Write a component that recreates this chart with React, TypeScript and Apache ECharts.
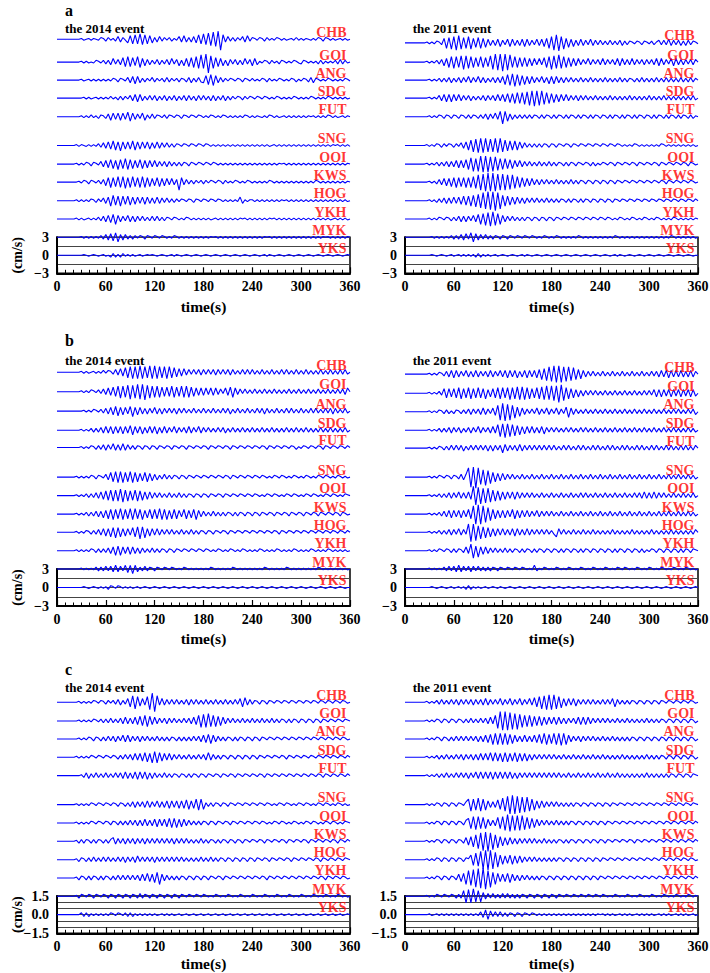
import React, { useEffect, useRef } from "react";
import * as echarts from "echarts";

// ---------------- data ----------------
const STATIONS = ["CHB", "GOI", "ANG", "SDG", "FUT", "SNG", "OOI", "KWS", "HOG", "YKH", "MYK", "YKS"];
const TIME_STEP = 3; // seconds between samples
const TIME_MAX = 360;
const TIME_TICK = 60;
// amplitude of one code level (cm/s); code 'm' = 0, 'n' = +1, 'l' = -1 ...
const LEVEL_AB = 0.15;
const LEVEL_C = 0.075;

// trace offsets (cm/s) for stations, top to bottom
const OFF_A_2014 = [36.0, 32.2, 29.2, 26.2, 23.1, 18.3, 15.2, 12.2, 9.1, 6.05, 3.0, 0];
const OFF_A_2011 = [35.4, 32.2, 29.2, 26.2, 23.1, 18.3, 15.2, 12.2, 9.1, 6.05, 3.0, 0];
const OFF_B_2014 = [34.9, 31.75, 28.6, 25.5, 22.7, 17.9, 14.9, 11.9, 8.95, 5.97, 3.0, 0];
const OFF_B_2011 = [34.6, 31.5, 28.5, 25.5, 22.6, 17.9, 14.9, 11.9, 8.95, 5.97, 3.0, 0];
const OFF_C_2014 = [17.08, 15.58, 14.13, 12.66, 11.18, 8.85, 7.37, 5.9, 4.42, 2.95, 1.48, 0];
const OFF_C_2011 = [17.08, 15.58, 14.13, 12.66, 11.18, 8.85, 7.37, 5.9, 4.42, 2.95, 1.48, 0];

// waveforms: one char per 3 s sample (groups of 60 s)
const WAVES_A_2014 = [
  "mmmmmmmmmmnlmnlnmlon kolnkpjoliqhrhsgrhqi ojpkoloknlpjqjojpirh sgtfuevarjpkokolpjqk onlonkolnlonlnlmnlol nlnmlnlonkonlnlmnlnl m",
  "mmmmmmmmmmnlnlmlonlo kojqkpjrhshrisgqipjo kpjokpjqkpioiqhrgsfu fvatfrhqioipkpjojqkp iqjnlonkolnkonlnlonl konlnlnkoknlnlokpkol m",
  "mmmmmmmmmmnlmnlnlnln lnlonkonlpjqiqjokolp kolokpkolokonkpjokpk jrhsgrjpkolonlonkonl olnlonkolnlonlnlonkn lonkpjonlnlonlnlnlon l",
  "mmmmmmmmmmmnlnlmnlnl nlolnkokolpjqiqjokpk pjokpjokpjokpjpkojpk pkojpjokpjokolonkolo nlonlonlnlonlnlnlonl nlnlonlnlnlonlnlnlnl m",
  "mmmmmmmmmmnlnlolnkon kpiqjqiqjrhqjpkqiokp konlokonlonkonlonlon lnlonlnlonlnlnlnlonl nlnmlnlonlnlmnlnlnln lnlnmnlnlnlonlnlmnln m",
  "mmmmmmmmnlnmlnlnlokp jqirhqgqiqirhqiqjqip jqjpkpkokonlonlonlon lonlnlnlnlnlnlnlnlnl nlnlnlnlmnlnlnlnlnln lnlnlnlnlnlnlnmnlnln l",
  "mmmmmmmmnlnlonkonlpj qirhqgrhsgrhqirhqiqj qjpkpjpkokokonkonlon lonlonlnlnlnlnlnlnln lnlnlnlnlnlnmnlnlnln lnlnlnlnlnlnlnlnlnln m",
  "mmmmmmmmmnlonkonlokp irgrhsgsfrgshrgsgrhq irhqiqjqjpdrjpkokolo kolonlonkolnlonlnlon lnlnlnlonlnlnlnlnlnl nlnlnlonlnlnlnlnlnln m",
  "mmmmmmmmnlnlnlonkolp jqgshrgrirhqiqjqiqjp jqjpkpkokolonlonkonl onlonlonlnlnlnlqjnln nlnlnlnlnlnlnmnlnlnl nlnlnlnlnlnlnlnlnlnl m",
  "mmmmmmmmnlnlmnlnlokp jqirgqjpkqjpjpkpkokp kpkokonlonlnlonlnlnl nlnlmnlnlnlnlnlnmnln lnlnlnlnmnlnlnlnlnln lnlnlnlnlnlnlmnlnlnl m",
  "mmmmmmmmmmnlnlnlnlok pjqirhpjpkokolonkonl onlonlnlonlnlnlnlnln lnlnmnlnlnlnlnlnlnln lnlnlnmnlnlnlnlnlnln lnlnlnlnlnmnlnlnlnln m",
  "mmmmmmmmmmmnmlmnmlmn lmkoknkolnlnlmnlmnmn mlmnmlmnlnmlmnmlmnml mnmlmnmlmnmlmnmlmnml mnmlmnlnmlmnmlmnmlmn mlmnmlmnmlmnmlmnmlmn m",
];

const WAVES_A_2011 = [
  "mmmmmmmmmnlnlonkrgsf teufsgtfrhsgrhqjpjqi pkqiqjpjqiqjpkqjqirg tevdtfrhqipjqjpkqjpk pkokpkokpjokonlonkon loknpkpkqjpkpjojpkon l",
  "mmmmmmmmmnlnlokpiqgs fsgtetfsgrhsgrhtevdv cvdugsgrhrhqiqjqjrgs etfufsgrhqiqjpkqjpkp jqjpkpjqiqjpjqjpkpjp kpjqiqjpkqiqjpjpkpjp m",
  "mmmmmmmmmmnlnlokokpj okpjpkqjpkqjpjokpjpj qhsgtfsgrhqiqjpkqjpi qiqjpjpkpkokpkokpkok okpkokokpkokonkokpko kokpkokpkokokpkokpko m",
  "mmmmmmmmmmnlnlpjqiqi qjqjpkpjokokpjpkpjqj qirhrgsgsfteudueufsg rhqiqjqjpkpjpkpkokpk okokpkokokokpkokokok pkokokpkokokokokokpk m",
  "mmmmmmmmmmnlnlonkonk onkonkokonkokpjpkqjs eshpjokokokokonkokon kokonkokonkokonkokon konkokonkokonkokonko nkokonkokonkokonkokn m",
  "mmmmmmmmmnlnlonkolon kolpjqhsfteueuftfueu fsgrhrhqjpkokokokonk onkonlonkonlonlonlon lonlonlonlnlnlonlnln lnlnlonlnlnlnlnlnlnl m",
  "mmmmmmmmmnlnlokokpjp jqiqirgtesevdvdueufs gshrhqjqjpkpkokpkokp kokonkokonkonlonkokn lonlonkonlonlonkonlo nlonkonlonlonlonkonl m",
  "mmmmmmmmmmnlnkpjqiqh rgrhrgrgsfudvcwcwcvd vdueufsgrhqiqjpjpkpk okpkokokpkokonkonkon konkonkonlonlonlonlo nlonlonkonlonlonlonl m",
  "mmmmmmmmmmnlnkokpjpj qjqirhrgsftevdwcwbvd sgrhqiqjpjpkpkpkokpk okokonkokonkokonkonk onkonkonlonlonlonlon lonlonlonlonlonlonlo m",
  "mmmmmmmmmmnlnlonlonk okpjpjpkqjrgsfteufsg qjpkpkokokonkonkonko nkonlonlonlonlonlonl onlonlnlonlnlonlnlon lnlonlnlnlonlnlnlnln m",
  "mmmmmmmmmmmnlnlnlnlo kokpjqkrhqjpkpkokonk onkonlonlonlonlnlonl nlonlnlnlnlonlnlnlnl nlnlnlonlnlnlnlnlnln lnlnlnlnlonlnlnlnlnl m",
  "mmmmmmmmmmmnmlmnmlmn lmnlnlnlnkoknlnlmnlm nmlmnmlmnlnmlmnmlmnm lmnmlmnmlmnmlmnmlmnm lmnmlmnlnmlmnmlmnmlm nmlmnmlmnmlmnmlmnmlm m",
];

const WAVES_B_2014 = [
  "mmmmmmmmmmnlnlmnlnlo lonkpjqirgsfsftfsgtf tfsgsfsgrhqiqjpkpkpj pkpkpjpkpkpjpkokpkpk pkokpkokpkokpkpkokpk okpkokokpkokpkokpkpk m",
  "mmmmmmmmmmnlnlonlokp jqirhsfsgtetfueudtfs gsgrhrhsgrhsgsgrhqiq iqjqiqjpkqirgqjpkpko kpkokpkokpkokokpkokp kokpkokpkokpkokpkpjq m",
  "mmmmmmmmmmmnlnlonlok pjqirhqiqjrgqiqjpjpk qjpjpkpkpjpkpkokpkok pkokpkokpkpjokpkokpk okpkpjpkokpkokpkpkok pkokpkpkokpkpjpkokpk m",
  "mmmmmmmmmmnlnlokokpj qjqiqjqiqjrhqjqipjqj qipjqjpkqjpkpjqjpkqj pkpkokpkpjokpkokpkok pkokpkokpkokokpkokpk okpkokokpkokpkokokpk m",
  "mmmmmmmmmmnlnlonkokp jpkqjpjqjpkokonkonko nkonlonkonlonkonlonl onkonlonlonkonlonlon lonlonkonlonlonlonkn lonlonlonkonlonlonlo m",
  "mmmmmmmmnlnlnlonkonl pjrhsgsgrhsgrhqirhqi pjokpkokonkonkonlonl onlonlonlonkonlonlon lonlonlnlonlonlnlonl nlonlnlonlonlnlonlnl m",
  "mmmmmmmmnlnlokokpjqi rhsgsgtfsgrhsgrhqiqj pkpkokpkokpkokonkonk onkonlonkonlonlonlon lonlnlonlonlnlonlonl nlonlonlnlonlonlnlon m",
  "mmmmmmmmnlnlokokpjpi qhrgrhsgrhsgshrgqirh rhsgrgqhrhqjrhqirgqj pkokpkokokonkokonkon konkonlonkonlonkonlo nkonlonkonlonlonkonl m",
  "mmmmmmmmnlnlonkokpjq iqhrgrhqiqjrhsfsgqiq jqjpkpkpkokpkokpkoko nkonkonlonkonlonlonl onlonlonlonkonlonlon lonlonlonlonlonlonlo m",
  "mmmmmmmmnlnlnlonkoko kpjqhrhqjqiqjpjpkokp kokonkonkonlonlonlon lonlnlonlnlonlnlonln lnlonlnlnlonlnlnlonl nlnlonlnlnlonlnlnlnl m",
  "mmmmmmmmmmnlnlnlokok pkpjqjpkqiqhqjokpkon konlonlonlnlonlnlnln lnlonlnlnlnlonlnlnln lnlnlonlnlnlnlonlnln lnlnlnlonlnlnlnlnlnl m",
  "mmmmmmmmmmmnmlmnmlnl nkonlonlnlnlmnlmnmlm nmlmnmlmnmlmnmlmnmlm nmlmnmlmnmlmnmlmnmlm nmlmnmlmnmlmnmlmnmlm nmlmnmlmnmlmnmlmnmlm m",
];

const WAVES_B_2011 = [
  "mmmmmmmmmmnlnlonkpjq iqjpkqjpjqjpkpjqjpkq jqiqjqipjqiqjqirgsfu evdvdueuftgrhqjpkpko kpkokpkokpkokpkokpko kpkpjqjqiqjqjqjpjqjp m",
  "mmmmmmmmmmnlnlokrhri rhsgrhsgrhshrgqirhsg shsfsgtftfsgrhsgtfuf ueucvesgrhqipjpkpkpk okpkokpkokpkokpkokpk pkqiqiqjqiqjqiqjqiqj m",
  "mmmmmmmmmmnlnlonkokn konkokpjpkpjqjpkqitd vcudtfrhqjpkpkqjpkqj pkqjpkrgqjpkokpkokpk okpkokpkokpkokpkokpk okpkokpkokpkpkokpkpj m",
  "mmmmmmmmmmnlnlokokpj pkpjokpjpkqjpkpjqjsf tetfsgrhqiqjqjpjqipk pkpkokpkpkokpkpkokpk okpkokpkokpkokpkokpk okpkokpkokpkokokpkok m",
  "mmmmmmmmmmnlnlonkokp kpkpjokpkpkpkpjpjpkp hqjpkpjqjpkpkpkpkpkp kpkokpkpkokpkpkokpkp kokpkpkokpkpkokpkpko kpkpkokpkpkokpkpkokp m",
  "mmmmmmmmmmnlnlonlonk onkpjpwbxaweudtfrhqi qjpkpkokpkokpkokpkok pkokpkokpkokpkokpkok pkokpkokpkokpkokpkok pkokpkokpkokpkokpkok m",
  "mmmmmmmmmmnlnlokokpj pkqjpjqiwcvdueufsgrh qiqjqiqjpkpkpkokpkok pkokpkokpkokpkpkokpk okpkokpkokpkokpkpjqj pjqjpkpkokpkokpkokpk m",
  "mmmmmmmmmmnlnlokpjqi qjqiqjrhvbwbvdtfrhqi qiqjrhqiqjqjpkqjpkpk pkokpkokpkokpkokpkok pkokpkokpkokpkokpkok pkokpkokpkokpkokpkok m",
  "mmmmmmmmmmnlnlokokpj pkqjpkvcvdtfsgrhqiqj qjpjqiqjpjqjpkpkpkpk okhqkpkokpkokpkokpko kokokpkokokokpkokoko kpkokokokpkokokokokp m",
  "mmmmmmmmmmnlnlonlonk okonkqjterfqiqjpkpko kpkokonkokonkokonkon konkokonkonkokonkonk onkonkokonkonkonkokn lonkonkonkonkokonkon m",
  "mmmmmmmmmmnlnlnlokpk pjqjpkpjpkpkokokonko nlonlonlonlnlqknlonl nlonlnlonlnlonlnlonl nlonlnlonlonlnlonlnl onlnlonlnlonlnlonlnl m",
  "mmmmmmmmmmmnmlmnmlmn lmnlnkoknlnlmnlmnmln mlmnmlmnmlmnmlmnmlmn mlmnmlmnmlmnmlmnmlmn mlmnmlmnmlmnmlmnmlmn mlmnmlmnmlmnmlmnmlmn m",
];

const WAVES_C_2014 = [
  "mmmmmmmmmnlnlnlonlon kolokpjokqhtfsiqjsew ctjqjpkpkpkokpjpkpko kpkokpkokpkokpkqhrjp konkonkonlonlonlonlo nlonlonlonlonlonlonl m",
  "mmmmmmmmmnlnlnlonlok okpkokpjqjpjqirhsgri qjpkpjpkpkokpkpjqisf tfugsgrhqjpkpkokpkok pkokpkokpkokonkokonk onkonkonkonlonlonlon m",
  "mmmmmmmmmnlnlonkonko kpkpjpkqjqjpkpjpkpko kpkokokonkokokokpkpj qirhqjpkokonkokonkon konkonlonlonlonlonlo nlonlonlonlonlonlonl m",
  "mmmmmmmmnlnlnlonlonl onlonkokpkpjqjqirhqg sgriqjqjpkpkokpkokpk pjrjpkokonkonkonkonk onkonlonlonlonkonlon lonlonlonlonlonlonlo m",
  "mmmmmmmmmmnkpjokpkok pkokpkpjqjpjqiqjqipj pkokpkokonkonkokonko nkonlonkonlonkonlonl onlonkonlonlonlonlon lonlonlonkonlonlonlo m",
  "mmmmmmmmnlnlnlonlonl onlonkonkokpjpkpjqjp kqjpjqiqjqiqirhqisgs hokokonkonkonlonlonl onlonlonlnlonlonlnlo nlonlnlonlonlnlonlnl m",
  "mmmmmmmmnlnlnlonlonl onkonkokokpkpjpjqjpj qiqjqirhrhqiqjpkokok onkonkonlonkonlonlon lonlonlnlonlonlnlonl nlonlonlnlonlonlnlon m",
  "mmmmmmmmnkokonkokonk okoqjpkpjpkpjpkpjpkp kpkpkpkpjpkpkpkokokp kokonkokonkonkonkonl onlonkonlonlonkonlon lonkonlonlonlonkonlo m",
  "mmmmmmmmnkonkokpkokp kpkokpkpjpkpjqkpkpkp jpkpkpkpkpkpkokokokp kokpkokonkonkonkonko nkonlonkonlonlonkonl onlonlonkonlonlonlon m",
  "mmmmmmmmnkonkokonkok onkokpkpkpkpkpjqjriq hsfqjpkokokonkonkonk onkonlonkonlonlonlon lonlonkonlonlonlonlo nlonlonlonkonlonlonl m",
  "mmmmmmmmnkonlonkonlo nkonkonkonkonkpkonko nkonkonkonkonlonlonl onlnlonlnlonlnlonlnl onlnlonlnlonlnlonlnl onlnlonlnlonlnlonlnl m",
  "mmmmmmmmmmokoknlnlnl nlonlonlokoknlnlnlnl nlmnlnlnlmnlmnlmnlmn lmnlmnlmnlmnlmnlmnlm nlmnlmnlmnlmnlmnlmnl mnlmnlmnlmnlmnlmnlmn m",
];

const WAVES_C_2011 = [
  "mmmmmmmmmnlnlokpkokp kpjpkpkpjpkpjqjpkpkq jpkqjpkqjpkqjrhsfteu eufsgqiqjqipkpkpkpko kpkpkqhpkokokonkonko nkonkonlonlonlonlonl m",
  "mmmmmmmmmnlnlonkonko nkonkokpkokpkpjqjsew cwcvdudtfsgsgrhrhqiq jqiqjpjpkpjqiqiqjpkp kpkpkokpkokpkokokokp kokokonkonkonkonkonk m",
  "mmmmmmmmmnlnlonkonko kpkpkpkpkpjpjqirgsgs gsgrhqjpjqjpjqirhsgr hsgsfsgqjpkpjpkpkpko kpkokpkokokokonkonko nkonkonkonkonkonkonk m",
  "mmmmmmmmmnlnlokokpko kpkpjpkpjpjqjqjririq hrhqirhqiqipjpkpkpkp kpkokpkokpkokpkokpko kpkokokokpkokokokokp kokokonkonkonkonkonk m",
  "mmmmmmmmmnlnlokokpko kpkpkpjpkqjqjqjqiqjq jqjqjpjpkpkpkpkpkpkp kpkpkokpkokpkokpkokp kokpkokpkokokokokokp kokokokokonkonkonkon m",
  "mmmmmmmmmnlnlonkonko nkonlpsfsgtfsgqjpjrh tfvcwcvdueufsgqiqjpk pkpkokokokonkonkonko nkonkonlonlonlonlonl onlonlonlonlonlonlon m",
  "mmmmmmmmmnlnlonkonko nkonkprgtftgsgqjpjsg tevdueueufsgrhqjpkpk okpkokokonkonkonkonk onkonlonlonlonlonlon lonlonlonlonlonlonlo m",
  "mmmmmmmmmnlnlonkonko nkonkqirgtevcwbvdtfr hqiqjpjpkpkpkpkokpko kokonkokonkonkonkonk onkonlonlonlonkonlon lonlonlonlonlonlonlo m",
  "mmmmmmmmmnlnlonkonko nkonkonrgtfvcwbwcuer hqirhqiqjpkpkpkokoko kokonkonkonkonkonkon konlonlonlonlonlonlo nlonlonlonlonlonlonl m",
  "mmmmmmmmmnlnlonkonko nkqirfuevcwbxaucsfri qirhqjpjpkpkokokonko nkonkonkonkonkonkonk onlonlonlonlonlonlon lonlonlonlonlonlonlo m",
  "mmmmmmmmmnlnlonlonlo nkoksftfugsgqjpkpkok pkpkokokonkonkonkonk onkonlonlonlonlonlon lonlnlonlnlonlnlonln lonlnlonlnlonlnlonln m",
  "mmmmmmmmmmnlmnlnlnln lnlnlnlnlnlpjrhqkpkp kokonkonkonlonlnlnln lnlnlnlnlnlnlnlnlnln mnlnlnlmnlnlnlmnlnln lnlmnlnlnlmnlnlnlmnl m",
];

const TITLE_LEFT = "the 2014 event";
const TITLE_RIGHT = "the 2011 event";
const Y_LABELS_AB: [number, string][] = [[3, "3"], [0, "0"], [-3, "\u22123"]];
const Y_LABELS_C: [number, string][] = [[1.5, "1.5"], [0, "0.0"], [-1.5, "\u22121.5"]];

// ---------------- layout ----------------
const FONT = "'Liberation Serif', 'Times New Roman', serif";
const SIDES = [
  { left: 57, titleX: 65 },
  { left: 405, titleX: 412.7 },
];
const PLOT_W = 293;

const PANELS = [
  {
    letter: "a", waves: [WAVES_A_2014, WAVES_A_2011], offs: [OFF_A_2014, OFF_A_2011],
    level: LEVEL_AB, yMin: -3, yMax: 3, yInterval: 1.5, traceMax: 40, yLabels: Y_LABELS_AB,
    boxTop: 237.3, boxH: 36, letterY: 10, titleY: 28.5, timeY: 306.5,
  },
  {
    letter: "b", waves: [WAVES_B_2014, WAVES_B_2011], offs: [OFF_B_2014, OFF_B_2011],
    level: LEVEL_AB, yMin: -3, yMax: 3, yInterval: 1.5, traceMax: 40, yLabels: Y_LABELS_AB,
    boxTop: 569, boxH: 37, letterY: 340.7, titleY: 360.8, timeY: 638.5,
  },
  {
    letter: "c", waves: [WAVES_C_2014, WAVES_C_2011], offs: [OFF_C_2014, OFF_C_2011],
    level: LEVEL_C, yMin: -1.5, yMax: 1.5, yInterval: 0.5, traceMax: 20, yLabels: Y_LABELS_C,
    boxTop: 896, boxH: 37.3, letterY: 669, titleY: 687.5, timeY: 963.5,
  },
];

const decode = (code: string, level: number, offset: number) =>
  code
    .replace(/\s+/g, "")
    .split("")
    .map((c, i) => [i * TIME_STEP, offset + (c.charCodeAt(0) - 109) * level]);

function buildOption() {
  const grid: any[] = [];
  const xAxis: any[] = [];
  const yAxis: any[] = [];
  const series: any[] = [];
  const graphic: any[] = [];

  const labelStyle = { color: "#000", fontFamily: FONT, fontWeight: "bold", fontSize: 14 };

  PANELS.forEach((p, pi) => {
    const ppu = p.boxH / (p.yMax - p.yMin);
    const traceH = (p.traceMax - p.yMin) * ppu;
    graphic.push({
      type: "text", x: 65, y: p.letterY,
      style: { text: p.letter, fill: "#000", fontFamily: FONT, fontWeight: "bold", fontSize: 16, align: "left", verticalAlign: "middle" },
    });
    graphic.push({
      type: "text", x: 17, y: p.boxTop + p.boxH / 2, rotation: Math.PI / 2,
      style: { text: "(cm/s)", fill: "#000", fontFamily: FONT, fontWeight: "bold", fontSize: 14, align: "center", verticalAlign: "middle" },
    });

    SIDES.forEach((s, si) => {
      const gi = (pi * 2 + si) * 2;
      const waves = p.waves[si];
      const offs = p.offs[si];
      grid.push({
        left: s.left, top: p.boxTop, width: PLOT_W, height: p.boxH,
        show: true, borderColor: "#000", borderWidth: 1.5, backgroundColor: "transparent",
        outerBoundsMode: "none",
      });
      grid.push({
        left: s.left, top: p.boxTop + p.boxH - traceH, width: PLOT_W, height: traceH,
        show: false, outerBoundsMode: "none",
      });
      xAxis.push({
        gridIndex: gi, type: "value", min: 0, max: TIME_MAX, interval: TIME_TICK,
        axisLine: { show: true, onZero: false, lineStyle: { color: "#000", width: 2 } },
        axisTick: { show: true, inside: true, length: 6, lineStyle: { color: "#000", width: 1.2 } },
        minorTick: { show: true, splitNumber: 6, length: 3.5, lineStyle: { color: "#000", width: 1 } },
        axisLabel: { ...labelStyle, margin: 6 },
        splitLine: { show: false },
      });
      xAxis.push({ gridIndex: gi + 1, type: "value", min: 0, max: TIME_MAX, show: false });
      const yl = p.yLabels;
      yAxis.push({
        gridIndex: gi, type: "value", min: p.yMin, max: p.yMax, interval: p.yInterval,
        axisLine: { show: true, onZero: false, lineStyle: { color: "#000", width: 2 } },
        axisTick: { show: false },
        axisLabel: {
          ...labelStyle, margin: 8,
          formatter: (v: number) => {
            const f = yl.find(([val]) => Math.abs(val - v) < 1e-6);
            return f ? f[1] : "";
          },
        },
        splitLine: { show: true, lineStyle: { color: "#444", width: 1 } },
      });
      yAxis.push({ gridIndex: gi + 1, type: "value", min: p.yMin, max: p.traceMax, show: false });

      waves.forEach((w, i) => {
        series.push({
          type: "line", xAxisIndex: gi + 1, yAxisIndex: gi + 1,
          data: decode(w, p.level, offs[i]),
          showSymbol: false, symbol: "none", smooth: false, silent: true, z: 3,
          lineStyle: { color: "#0000ff", width: 1.1 },
        });
      });
      series.push({
        type: "scatter", xAxisIndex: gi + 1, yAxisIndex: gi + 1, silent: true, z: 5,
        symbolSize: 1, itemStyle: { color: "rgba(0,0,0,0)" },
        data: STATIONS.map((n, i) => ({ name: n, value: [TIME_MAX, offs[i]] })),
        label: {
          show: true, position: "left", distance: 3, offset: [0, -7], formatter: "{b}",
          color: "#ff0000", fontFamily: FONT, fontWeight: "bold", fontSize: 14,
        },
      });

      graphic.push({
        type: "text", x: s.titleX, y: p.titleY,
        style: { text: si === 0 ? TITLE_LEFT : TITLE_RIGHT, fill: "#000", fontFamily: FONT, fontWeight: "bold", fontSize: 13, align: "left", verticalAlign: "middle" },
      });
      graphic.push({
        type: "text", x: s.left + PLOT_W / 2, y: p.timeY,
        style: { text: "time(s)", fill: "#000", fontFamily: FONT, fontWeight: "bold", fontSize: 15.5, align: "center", verticalAlign: "middle" },
      });
    });
  });

  return {
    animation: false,
    backgroundColor: "#fff",
    grid, xAxis, yAxis, series, graphic,
  };
}

export default function App() {
  const ref = useRef<HTMLDivElement>(null);
  useEffect(() => {
    if (!ref.current) return;
    const chart = echarts.init(ref.current, undefined, { renderer: "svg" });
    chart.setOption(buildOption() as any);
    return () => chart.dispose();
  }, []);
  return (
    <div
      ref={ref}
      style={{ position: "absolute", left: 0, top: 0, width: 710, height: 973, background: "#fff" }}
    />
  );
}
